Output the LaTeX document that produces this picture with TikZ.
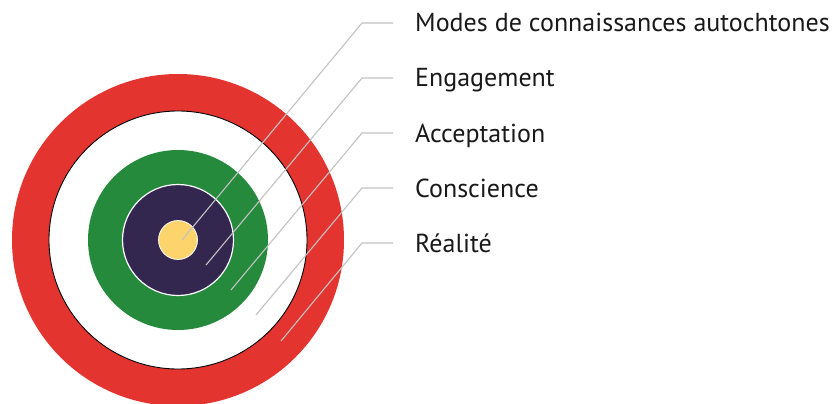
\documentclass[tikz,border=0pt]{standalone}
\usepackage{fontspec}
\setmainfont{PT Sans}
\definecolor{ringred}{HTML}{E3342F}
\definecolor{ringgreen}{HTML}{258A3C}
\definecolor{ringpurple}{HTML}{33264F}
\definecolor{ringyellow}{HTML}{FDD36B}
\definecolor{leadergrey}{HTML}{C2C2C2}
\begin{document}
\begin{tikzpicture}[x=1pt,y=-1pt,
  leader/.style={draw=leadergrey,line width=1.1pt},
  caption/.style={anchor=base west,inner sep=0pt,font=\fontsize{26}{31}\selectfont,text=black!90}]
\useasboundingbox (0,0) rectangle (838,404);
% concentric rings
\coordinate (c) at (178,240);
\fill[ringred] (c) circle (166);
\fill[white,draw=black,line width=0.9pt] (c) circle (129);
\fill[ringgreen] (c) circle (90);
\fill[ringpurple,draw=white,line width=1.2pt] (c) circle (55.5);
\fill[ringyellow,draw=white,line width=0.8pt] (c) circle (19.5);
% leader end points inside the rings
\coordinate (p1) at (182,240);
\coordinate (p2) at (206,265);
\coordinate (p3) at (231,290);
\coordinate (p4) at (256,315);
\coordinate (p5) at (281,341);
% knees of the leaders
\coordinate (k1) at (362,23);
\coordinate (k2) at (362,78);
\coordinate (k3) at (362,133);
\coordinate (k4) at (362,188);
\coordinate (k5) at (362,243);
% labels
\node[caption] (t1) at (415,32) {Modes de connaissances autochtones};
\node[caption] (t2) at (415,87) {Engagement};
\node[caption] (t3) at (415,142) {Acceptation};
\node[caption] (t4) at (415,197) {Conscience};
\node[caption] (t5) at (415,252) {Réalité};
% leaders
\foreach \i in {1,...,5}{
  \draw[leader] (p\i) -- (k\i) -- ([xshift=-22pt]t\i.west |- k\i);
}
\end{tikzpicture}
\end{document}
